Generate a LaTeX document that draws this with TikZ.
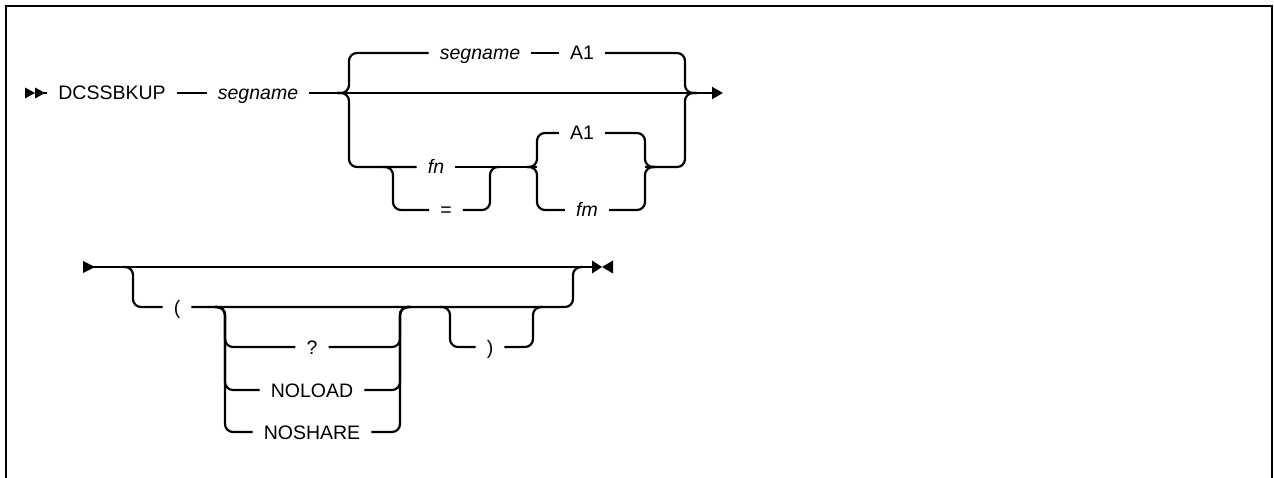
\documentclass[tikz,border=0pt]{standalone}
\usepackage{fontspec}
\setmainfont{Liberation Sans}
\usetikzlibrary{arrows.meta}

\begin{document}
\begin{tikzpicture}[
    x=1pt, y=-1pt,
    kw/.style={font=\fontsize{19.5}{22}\selectfont, inner xsep=11pt, inner ysep=0pt,
               text height=18pt, text depth=4pt},
    var/.style={kw, font=\fontsize{19.5}{22}\selectfont\itshape},
    rail/.style={draw, line width=2.2pt, rounded corners=8pt},
    tip/.style={fill=black},
]
\useasboundingbox (0,0) rectangle (1274,478);

% frame
\draw[line width=2.6pt] (6,478) -- (6,6) -- (1272,6) -- (1272,478);

% first line of the syntax
\coordinate (r1s) at (25,93);
\node[kw]  (cmd)  at (112,93) {DCSSBKUP};
\node[var] (seg)  at (258,93) {segname};
\coordinate (b1l) at (349,93);
\coordinate (b1r) at (685,93);
\coordinate (r1e) at (723,93);

\node[var] (seg2) at (480,53)  {segname};
\node[kw]  (a1)   at (582,53)  {A1};
\node[var] (fn)   at (436,167) {fn};
\node[kw]  (eq)   at (446,210) {=};
\coordinate (b2l) at (393,167);
\coordinate (b2r) at (490,167);
\coordinate (b3l) at (537,167);
\coordinate (b3r) at (645,167);
\node[kw]  (a1b)  at (582,133) {A1};
\node[var] (fm)   at (587,210) {fm};

\fill[tip] (r1s) ++(0,-5.5) -- ++(10,5.5) -- ++(-10,5.5) -- cycle;
\fill[tip] (r1s) ++(10,-5.5) -- ++(10,5.5) -- ++(-10,5.5) -- cycle;
\draw[rail] ([xshift=16pt]r1s) -- (cmd);
\draw[rail] (cmd) -- (seg);
\draw[rail, -{Triangle[length=11pt,width=12pt]}] (seg) -- (r1e);

\draw[rail] ([xshift=-12pt]b1l) -| (b1l |- seg2) -- (seg2);
\draw[rail] (seg2) -- (a1);
\draw[rail] (a1) -| (b1r) -- ([xshift=12pt]b1r);

\draw[rail] ([xshift=-12pt]b1l) -| (b1l |- fn) -- (fn);
\draw[rail] (fn) -- (b3l);
\draw[rail] ([xshift=-10pt]b2l) -| (b2l |- eq) -- (eq);
\draw[rail] (eq) -| (b2r) -- ([xshift=10pt]b2r);
\draw[rail] ([xshift=-10pt]b3l) -| (b3l |- a1b) -- (a1b);
\draw[rail] ([xshift=-10pt]b3l) -| (b3l |- fm) -- (fm);
\draw[rail] (a1b) -| (b3r) -- ([xshift=10pt]b3r);
\draw[rail] (fm) -| (b3r) -- ([xshift=10pt]b3r);
\draw[rail] (b3r) -| (b1r) -- ([xshift=12pt]b1r);

% second line of the syntax
\coordinate (r2s) at (83,267);
\coordinate (b4l) at (133,267);
\node[kw]  (lp)   at (177,307) {(};
\coordinate (b5l) at (225,307);
\node[kw]  (qm)   at (312,347) {?};
\node[kw]  (nold) at (312,390) {NOLOAD};
\node[kw]  (nosh) at (312,432) {NOSHARE};
\coordinate (b5r) at (400,307);
\coordinate (b6l) at (450,307);
\node[kw]  (rp)   at (490,347) {)};
\coordinate (b6r) at (533,307);
\coordinate (b4r) at (573,267);
\coordinate (r2e) at (592,267);

\fill[tip] (r2s) ++(0,-6) -- ++(12,6) -- ++(-12,6) -- cycle;
\draw[rail] ([xshift=8pt]r2s) -- (r2e);
\fill[tip] (r2e) ++(0,-6.5) -- ++(10,6.5) -- ++(-10,6.5) -- cycle;
\fill[tip] (r2e) ++(21,-6.5) -- ++(-11,6.5) -- ++(11,6.5) -- cycle;

\draw[rail] ([xshift=-10pt]b4l) -| (b4l |- lp) -- (lp);
\draw[rail] (lp) -- (b6r) -| (b4r) -- ([xshift=10pt]b4r);

\foreach \opt in {qm, nold, nosh} {
  \draw[rail] ([xshift=-10pt]b5l) -| (b5l |- \opt) -- (\opt);
  \draw[rail] (\opt) -| (b5r) -- ([xshift=10pt]b5r);
}

\draw[rail] ([xshift=-10pt]b6l) -| (b6l |- rp) -- (rp);
\draw[rail] (rp) -| (b6r) -- ([xshift=10pt]b6r);

\end{tikzpicture}
\end{document}
